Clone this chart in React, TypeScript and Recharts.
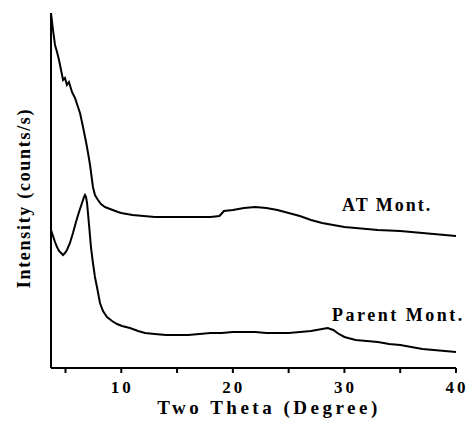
import React from "react";
import { LineChart, Line, XAxis, YAxis, Customized } from "recharts";

// 2θ (degree) and intensity (arb. counts)
const atTheta = [
  3.7, 3.88, 4.06, 4.24, 4.42, 4.6, 4.78, 4.95, 5.13, 5.31, 5.58, 5.85, 6.12,
  6.3, 6.57, 6.84, 7.02, 7.2, 7.46, 7.64, 7.91, 8.18, 8.54, 8.99, 9.71, 10, 11,
  12, 13, 14, 15, 16, 17, 18, 18.8, 19.2, 20, 21, 22, 23, 24, 25, 26, 27, 28,
  29, 30, 31, 32, 33, 34, 35, 36, 37, 38, 39, 40,
];
const atCounts = [
  355, 338, 323, 316, 308, 298, 288, 290, 283, 286, 276, 270, 261, 255, 241,
  226, 215, 203, 181, 173, 168, 164, 161, 159, 156, 155, 153, 152, 151, 151,
  151, 151, 151, 151, 152, 157, 158, 160, 161, 160, 158, 155, 152, 148, 145,
  143, 141, 140, 139, 138, 137.5, 137, 136, 135, 134, 133, 132,
];

const parentTheta = [
  3.7, 3.88, 4.06, 4.24, 4.42, 4.6, 4.78, 4.95, 5.13, 5.4, 5.67, 5.94, 6.21,
  6.48, 6.66, 6.75, 6.84, 6.93, 7.11, 7.29, 7.46, 7.64, 7.82, 8.09, 8.36, 8.72,
  9.17, 9.62, 10.06, 10.78, 11.5, 12.13, 13, 14, 15, 16, 17, 18, 19, 20, 21, 22,
  23, 24, 25, 26, 27, 27.5, 28, 28.5, 29, 29.5, 30, 31, 32, 33, 34, 35, 36, 37,
  38, 39, 40,
];
const parentCounts = [
  138, 132, 126, 121, 117, 115, 113, 115, 118, 125, 135, 146, 156, 165, 171,
  173, 171, 165, 143, 120, 105, 91, 81, 65, 57, 51, 47, 44, 42, 40, 37, 35, 34,
  33, 33, 33, 34, 35, 35, 36, 36, 36, 35, 35, 35, 36, 37, 38, 39, 40, 38, 34,
  31, 28, 27, 26, 24, 23, 21, 19, 18, 17, 16,
];

const xTicks = [5, 10, 15, 20, 25, 30, 35, 40];
const xLabels = ["", "10", "", "20", "", "30", "", "40"];

const atData = atTheta.map((t, i) => ({ theta: t, counts: atCounts[i] }));
const parentData = parentTheta.map((t, i) => ({
  theta: t,
  counts: parentCounts[i],
}));

const serif = "Liberation Serif, DejaVu Serif, serif";
const bold: React.CSSProperties = { fontFamily: serif, fontWeight: 700 };

function TickLabel({ x, y, payload }: any) {
  const idx = xTicks.indexOf(payload.value);
  const text = idx >= 0 ? xLabels[idx] : "";
  if (!text) return null;
  return (
    <text
      x={x + 1}
      y={y + 18}
      textAnchor="middle"
      style={{ ...bold, fontSize: 17, letterSpacing: 3 }}
      fill="#000"
    >
      {text}
    </text>
  );
}

function Annotations() {
  return (
    <g fill="#000">
      <text x={342} y={211} style={{ ...bold, fontSize: 18, letterSpacing: 2 }}>
        AT Mont.
      </text>
      <text
        x={332}
        y={321}
        style={{ ...bold, fontSize: 18, letterSpacing: 2.5 }}
      >
        Parent Mont.
      </text>
      <text
        x={269}
        y={414}
        textAnchor="middle"
        style={{ ...bold, fontSize: 19, letterSpacing: 3.5 }}
      >
        Two Theta (Degree)
      </text>
      <text
        x={30}
        y={198}
        textAnchor="middle"
        transform="rotate(-90 30 198)"
        style={{ ...bold, fontSize: 18, letterSpacing: 1.7 }}
      >
        Intensity (counts/s)
      </text>
    </g>
  );
}

export default function App() {
  return (
    <div style={{ position: "absolute", left: 0, top: 0 }}>
      <LineChart
        width={467}
        height={421}
        margin={{ top: 13, right: 11, left: 0, bottom: 0 }}
      >
        <XAxis
          dataKey="theta"
          type="number"
          domain={[3.7, 40]}
          ticks={xTicks}
          allowDataOverflow
          height={53}
          axisLine={{ stroke: "#000", strokeWidth: 2 }}
          tickLine={{ stroke: "#000", strokeWidth: 2 }}
          tickSize={5}
          tick={<TickLabel />}
          interval={0}
        />
        <YAxis
          type="number"
          domain={[0, 355]}
          allowDataOverflow
          width={51}
          tick={false}
          tickLine={false}
          axisLine={{ stroke: "#000", strokeWidth: 2 }}
        />
        <Line
          data={atData}
          dataKey="counts"
          type="linear"
          stroke="#000"
          strokeWidth={2}
          dot={false}
          isAnimationActive={false}
        />
        <Line
          data={parentData}
          dataKey="counts"
          type="linear"
          stroke="#000"
          strokeWidth={2}
          dot={false}
          isAnimationActive={false}
        />
        <Customized component={Annotations} />
      </LineChart>
    </div>
  );
}
